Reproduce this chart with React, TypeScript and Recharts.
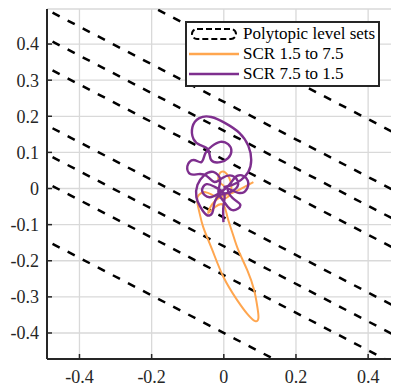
import React from 'react';
import { LineChart, Line, XAxis, YAxis, CartesianGrid, Legend } from 'recharts';

const xTicks = [-0.4, -0.2, 0, 0.2, 0.4];
const yTicks = [-0.4, -0.3, -0.2, -0.1, 0, 0.1, 0.2, 0.3, 0.4];
const xDomain = [-0.49, 0.48];
const yDomain = [-0.472, 0.497];

// polytopic level sets: straight lines y = level + slope * x
const levelSlope = -0.52;
const levels = [-0.4, -0.24, -0.16, -0.08, 0.08, 0.16, 0.24, 0.4];
const levelSpanX = [-0.6, 0.6];

// SCR 1.5 -> 7.5 trajectory
const scrUpX = [0.001, -0.015, -0.007, 0.012, 0.021, 0.007, -0.026, -0.051, -0.073, -0.069, -0.057, -0.032, -0.001, 0.037, 0.065, 0.087, 0.096, 0.093, 0.084, 0.065, 0.040, 0.024, 0.010, -0.001, -0.024, -0.043, -0.032, -0.004, 0.024, 0.051, 0.082];
const scrUpY = [0.007, 0.024, 0.046, 0.035, 0.001, -0.026, -0.021, -0.010, -0.024, -0.060, -0.107, -0.170, -0.245, -0.309, -0.347, -0.367, -0.358, -0.328, -0.281, -0.226, -0.170, -0.123, -0.079, -0.046, -0.051, -0.068, -0.043, -0.021, -0.012, 0.001, 0.018];

// SCR 7.5 -> 1.5 trajectory
const scrDownX = [-0.001, -0.001, 0.001, -0.024, -0.048, -0.060, -0.040, -0.012, 0.015, 0.037, 0.062, 0.065, 0.040, 0.012, 0.024, 0.046, 0.024, 0.001, -0.015, -0.010, -0.029, -0.054, -0.073, -0.076, -0.065, -0.048, -0.032, -0.026, -0.010, 0.018, 0.040, 0.024, -0.004, -0.026, -0.048, -0.071, -0.093, -0.101, -0.084, -0.062, -0.051, -0.032, -0.010, 0.012, 0.021, 0.012, -0.010, -0.035, -0.043, -0.065, -0.084, -0.087, -0.068, -0.035, 0.004, 0.043, 0.068, 0.076, 0.068, 0.048, 0.024, -0.001];
const scrDownY = [-0.093, -0.048, -0.015, 0.004, 0.012, -0.007, -0.024, -0.012, 0.010, 0.035, 0.029, 0.001, -0.012, -0.001, -0.026, -0.046, -0.060, -0.037, -0.010, 0.024, 0.046, 0.037, 0.010, -0.024, -0.051, -0.073, -0.068, -0.040, -0.018, -0.010, 0.012, 0.035, 0.029, 0.018, 0.035, 0.040, 0.040, 0.062, 0.079, 0.073, 0.098, 0.118, 0.129, 0.123, 0.104, 0.084, 0.073, 0.079, 0.107, 0.120, 0.137, 0.170, 0.195, 0.198, 0.181, 0.154, 0.118, 0.079, 0.046, 0.024, 0.010, 0.004];

const toPoints = (xs: number[], ys: number[]) => xs.map((x, i) => ({ x, y: ys[i] }));

const levelLines = levels.map((level) =>
  levelSpanX.map((x) => ({ x, y: level + levelSlope * x }))
);
const scrUp = toPoints(scrUpX, scrUpY);
const scrDown = toPoints(scrDownX, scrDownY);

const AXIS = '#262626';
const ORANGE = '#FFA64F';
const PURPLE = '#7E2F8E';
const SERIF = "'Liberation Serif', 'Times New Roman', Times, 'DejaVu Serif', serif";

const tickStyle = { fill: AXIS, fontSize: 18, fontFamily: SERIF };
const blank = () => '';

function LegendBox() {
  const rows = [
    { label: 'Polytopic level sets', kind: 'dash' },
    { label: 'SCR 1.5 to 7.5', kind: 'orange' },
    { label: 'SCR 7.5 to 1.5', kind: 'purple' }
  ];
  return (
    <div
      style={{
        border: `2px solid ${AXIS}`,
        background: '#fff',
        width: 191,
        padding: '1px 0 1px 0',
        fontFamily: SERIF,
        fontSize: 17,
        color: '#000',
        lineHeight: '20px'
      }}
    >
      {rows.map((r) => (
        <div key={r.label} style={{ display: 'flex', alignItems: 'center', height: 20 }}>
          <svg width={56} height={16} style={{ flex: 'none' }}>
            {r.kind === 'dash' ? (
              <rect x={5} y={3} width={44} height={10} rx={5} fill="none" stroke="#000" strokeWidth={2} strokeDasharray="6 3" />
            ) : (
              <line x1={2} x2={52} y1={8} y2={8} stroke={r.kind === 'orange' ? ORANGE : PURPLE} strokeWidth={2.5} />
            )}
          </svg>
          <span style={{ whiteSpace: 'nowrap' }}>{r.label}</span>
        </div>
      ))}
    </div>
  );
}

export default function App() {
  return (
    <LineChart width={391} height={381} margin={{ top: 1, right: 2, bottom: 0, left: 0 }}>
      <CartesianGrid stroke="#d9d9d9" strokeWidth={1.3} />
      <XAxis
        type="number"
        dataKey="x"
        domain={xDomain}
        ticks={xTicks}
        allowDataOverflow
        height={30}
        tickSize={-5}
        tickMargin={16}
        axisLine={{ stroke: AXIS, strokeWidth: 2 }}
        tickLine={{ stroke: AXIS, strokeWidth: 1.5 }}
        tick={tickStyle}
      />
      <XAxis
        xAxisId="top"
        orientation="top"
        type="number"
        dataKey="x"
        domain={xDomain}
        ticks={xTicks}
        allowDataOverflow
        height={0}
        tickSize={-5}
        tickFormatter={blank}
        axisLine={{ stroke: AXIS, strokeWidth: 2 }}
        tickLine={{ stroke: AXIS, strokeWidth: 1.5 }}
      />
      <YAxis
        type="number"
        dataKey="y"
        domain={yDomain}
        ticks={yTicks}
        allowDataOverflow
        width={39}
        tickSize={-5}
        tickMargin={13}
        axisLine={{ stroke: AXIS, strokeWidth: 2 }}
        tickLine={{ stroke: AXIS, strokeWidth: 1.5 }}
        tick={tickStyle}
      />
      <YAxis
        yAxisId="right"
        orientation="right"
        type="number"
        dataKey="y"
        domain={yDomain}
        ticks={yTicks}
        allowDataOverflow
        width={0}
        tickSize={-5}
        tickFormatter={blank}
        axisLine={{ stroke: AXIS, strokeWidth: 2 }}
        tickLine={{ stroke: AXIS, strokeWidth: 1.5 }}
      />
      {levelLines.map((pts, i) => (
        <Line
          key={`level-${i}`}
          data={pts}
          dataKey="y"
          type="linear"
          stroke="#000"
          strokeWidth={2.5}
          strokeDasharray="8 9"
          dot={false}
          activeDot={false}
          legendType="none"
          isAnimationActive={false}
        />
      ))}
      <Line
        data={scrUp}
        dataKey="y"
        name="SCR 1.5 to 7.5"
        type="natural"
        stroke={ORANGE}
        strokeWidth={2}
        dot={false}
        isAnimationActive={false}
      />
      <Line
        data={scrDown}
        dataKey="y"
        name="SCR 7.5 to 1.5"
        type="natural"
        stroke={PURPLE}
        strokeWidth={2.4}
        dot={false}
        isAnimationActive={false}
      />
      <Legend
        layout="vertical"
        align="center"
        verticalAlign="middle"
        wrapperStyle={{ left: 177, top: 13, width: 195 }}
        content={() => <LegendBox />}
      />
    </LineChart>
  );
}
